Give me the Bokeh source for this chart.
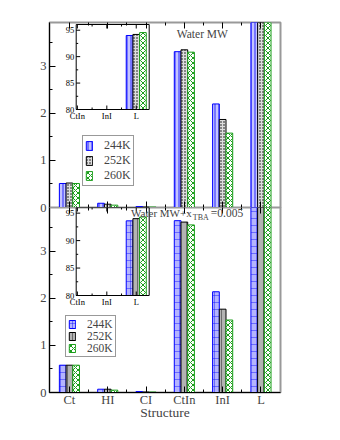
import math
from bokeh.plotting import figure
from bokeh.models import (Range1d, FixedTicker, SingleIntervalTicker, LinearAxis,
                          Legend, LegendItem, Label, ColumnDataSource,
                          CustomLabelingPolicy, CDSView, BooleanFilter)
from bokeh.transform import dodge
from bokeh.core.properties import value
from bokeh.layouts import column
from bokeh.embed import file_html
from bokeh.resources import INLINE

# ---------------- data ----------------
categories = ["Ct", "HI", "CI", "CtIn", "InI", "L"]
temps = ["244K", "252K", "260K"]

# Water MW (top panel), percentage per structure
mw_244 = [0.51, 0.09, 0.02, 3.31, 2.20, 94.0]
mw_252 = [0.52, 0.07, 0.01, 3.35, 1.87, 94.2]
mw_260 = [0.51, 0.05, 0.01, 3.30, 1.58, 94.55]

# Water MW + x_TBA = 0.005 (bottom panel)
tba_244 = [0.58, 0.07, 0.02, 3.65, 2.14, 93.6]
tba_252 = [0.58, 0.07, 0.01, 3.62, 1.77, 94.0]
tba_260 = [0.58, 0.05, 0.01, 3.56, 1.54, 94.3]

# inset (zoom on the largest values)
inset_categories = ["CtIn", "InI", "L"]
inset_yticks = [80, 85, 90, 95]
inset_yminor = [82.5, 87.5, 92.5]

FONT = "Liberation Serif"
xs = list(range(1, len(categories) + 1))
overrides = {x: c for x, c in zip(xs, categories)}

top_styles = [
    dict(fill_color="#c4c4ff", hatch_pattern="vertical_line", hatch_color="#0000ff",
         hatch_scale=4, hatch_weight=1, hatch_alpha=0.8, line_color="#0000ff"),
    dict(fill_color="#dddddd", hatch_pattern="dot", hatch_color="#000000",
         hatch_scale=3, hatch_weight=1, line_color="#000000"),
    dict(fill_color="#ffffff", hatch_pattern="diagonal_cross", hatch_color="#1a9e1a",
         hatch_scale=5, hatch_weight=1, line_color="#1a9e1a"),
]
bot_styles = [
    dict(fill_color="#b4b4ff", hatch_pattern="cross", hatch_color="#0000ff",
         hatch_scale=7, hatch_weight=1, hatch_alpha=0.4, line_color="#0000ff"),
    dict(fill_color="#b3b3b3", hatch_pattern="vertical_line", hatch_color="#000000",
         hatch_scale=7, hatch_weight=1, hatch_alpha=0.4, line_color="#000000"),
    dict(fill_color="#ffffff", hatch_pattern="diagonal_cross", hatch_color="#1a9e1a",
         hatch_scale=5, hatch_weight=1, line_color="#1a9e1a"),
]

NO_LABELS = """
for (const i of indices) { indices.unset(i) }
return indices
"""

FRAME_W, FRAME_H = 231, 185


def style_axis(ax, size):
    ax.major_tick_in = 6
    ax.major_tick_out = 0
    ax.minor_tick_in = 3
    ax.minor_tick_out = 0
    ax.major_label_text_font = FONT
    ax.major_label_text_font_size = size
    ax.axis_line_color = "black"


def hidden_axis(ticker, line_color):
    ax = LinearAxis(ticker=ticker)
    ax.major_tick_in = 6
    ax.major_tick_out = 0
    ax.minor_tick_in = 3
    ax.minor_tick_out = 0
    ax.major_label_standoff = 0
    ax.major_label_overrides = {x: "" for x in xs}
    ax.major_label_policy = CustomLabelingPolicy(code=NO_LABELS)
    ax.axis_line_color = line_color
    return ax


def add_inset(p, vals, styles, off_left, off_top, frame_w, frame_h, x0, x1, y0, y1):
    """Inset drawn in its own ranges, mapped onto the main frame."""
    ppx = frame_w / (x1 - x0)
    ppy = frame_h / (y1 - y0)
    xs_start = x0 - off_left / ppx
    ys_end = y1 + off_top / ppy
    p.extra_x_ranges["ix"] = Range1d(xs_start, xs_start + FRAME_W / ppx)
    p.extra_y_ranges["iy"] = Range1d(ys_end - FRAME_H / ppy, ys_end)
    R = dict(x_range_name="ix", y_range_name="iy")
    src = ColumnDataSource(dict(x=xs, v0=vals[0], v1=vals[1], v2=vals[2]))
    w = 0.227
    for col, st, off, v in zip(["v0", "v1", "v2"], styles, [-w, 0, w], vals):
        view = CDSView(filter=BooleanFilter([val >= y0 for val in v]))
        p.vbar(x=dodge("x", off, range=p.extra_x_ranges["ix"]), top=col, width=w,
               bottom=y0, source=src, view=view, line_width=1, **st, **R)
    # box
    p.quad(left=[x0], right=[x1], bottom=[y0], top=[y1], fill_alpha=0,
           line_color="black", line_width=1, **R)
    ins_x = xs[3:]
    minor_x = [x + 0.5 for x in ins_x[:-1]]
    # left ticks
    p.ray(x=[x0] * len(inset_yticks), y=inset_yticks, length=4, length_units="screen",
          angle=0, line_color="black", **R)
    p.ray(x=[x0] * len(inset_yminor), y=inset_yminor, length=2, length_units="screen",
          angle=0, line_color="black", **R)
    # bottom / top ticks
    p.ray(x=ins_x, y=[y0] * 3, length=4, length_units="screen", angle=math.pi / 2,
          line_color="black", **R)
    p.ray(x=minor_x, y=[y0] * 2, length=2, length_units="screen", angle=math.pi / 2,
          line_color="black", **R)
    p.ray(x=ins_x, y=[y1] * 3, length=4, length_units="screen", angle=-math.pi / 2,
          line_color="black", **R)
    p.ray(x=minor_x, y=[y1] * 2, length=2, length_units="screen", angle=-math.pi / 2,
          line_color="black", **R)
    # tick labels
    p.text(x=[x0] * len(inset_yticks), y=inset_yticks, text=[str(t) for t in inset_yticks],
           x_offset=-2, text_align="right", text_baseline="middle",
           text_font=value(FONT), text_font_size="8.5px", text_color="black", **R)
    p.text(x=ins_x, y=[y0] * 3, text=inset_categories, y_offset=1,
           text_align="center", text_baseline="top",
           text_font=value(FONT), text_font_size="8.5px", text_color="black", **R)


def panel(vals, styles, height, top_border, bottom_border, show_xlabels,
          legend_loc, legend_font, legend_h, legend_spacing, **kw):
    p = figure(width=300, height=height,
               x_range=Range1d(0.48, 6.51), y_range=Range1d(0, 3.93),
               output_backend="svg", toolbar_location=None,
               min_border_left=49, min_border_right=20,
               min_border_top=top_border, min_border_bottom=bottom_border,
               outline_line_color="#999999", outline_line_width=2,
               x_axis_location="below" if show_xlabels else None, **kw)
    p.grid.visible = False
    src = ColumnDataSource(dict(x=xs, v0=vals[0], v1=vals[1], v2=vals[2]))
    w = 0.175
    rends = []
    for col, st, off in zip(["v0", "v1", "v2"], styles, [-w, 0, w]):
        r = p.vbar(x=dodge("x", off), top=col, width=w, bottom=0, source=src,
                   line_width=1, **st)
        rends.append(r)
    style_axis(p.yaxis[0], "12.5px")
    p.yaxis.ticker = SingleIntervalTicker(interval=1, num_minor_ticks=2)
    p.yaxis.major_label_standoff = 3
    minor = [x + 0.5 for x in xs[:-1]]
    if show_xlabels:
        xa = p.xaxis[0]
        style_axis(xa, "12.5px")
        xa.ticker = FixedTicker(ticks=xs, minor_ticks=minor)
        xa.major_label_overrides = overrides
        xa.major_label_standoff = 0
        xa.axis_label = "Structure"
        xa.axis_label_text_font = FONT
        xa.axis_label_text_font_size = "13.5px"
        xa.axis_label_text_font_style = "normal"
        xa.axis_label_standoff = -5
    else:
        p.add_layout(hidden_axis(FixedTicker(ticks=xs, minor_ticks=minor), "black"), "below")
    p.add_layout(hidden_axis(FixedTicker(ticks=xs, minor_ticks=minor), None), "above")
    leg = Legend(items=[LegendItem(label=t, renderers=[r]) for t, r in zip(temps, rends)],
                 location=legend_loc, label_text_font=FONT,
                 label_text_font_size=legend_font, glyph_width=8,
                 glyph_height=legend_h - 2, label_height=legend_h,
                 label_standoff=11, padding=2, spacing=legend_spacing, margin=0,
                 border_line_color="#333333", border_line_width=1,
                 background_fill_color="white", background_fill_alpha=1)
    p.add_layout(leg)
    return p


top = panel([mw_244, mw_252, mw_260], top_styles, 22 + FRAME_H + 8, 22, 8, False,
            (33, 21), "12px", 13, -2)
bottom = panel([tba_244, tba_252, tba_260], bot_styles, FRAME_H + 43, 0, 43, True,
               (16, 35), "11.5px", 12, 0, margin=(-8, 0, 0, 0), border_fill_alpha=0)

add_inset(top, [mw_244, mw_252, mw_260], top_styles, 26.7, 2, 73, 85, 3.96, 6.44, 80, 96.08)
add_inset(bottom, [tba_244, tba_252, tba_260], bot_styles, 26.7, 0, 73, 88, 3.96, 6.44, 80, 96.03)

top.add_layout(Label(x=4.47, y=3.69, text="Water MW", text_font=FONT,
                     text_font_size="11.5px", text_align="center", text_baseline="middle"))
bottom.add_layout(Label(x=2.61, y=3.81, text="Water MW+x", text_font=FONT,
                        text_font_size="11px", text_align="left", text_baseline="middle"))
bottom.add_layout(Label(x=4.22, y=3.72, text="TBA", text_font=FONT,
                        text_font_size="8px", text_align="left", text_baseline="middle"))
bottom.add_layout(Label(x=4.69, y=3.81, text="=0.005", text_font=FONT,
                        text_font_size="11.5px", text_align="left", text_baseline="middle"))

layout = column(top, bottom, spacing=0)

open("out.html", "w").write(file_html(layout, INLINE))
